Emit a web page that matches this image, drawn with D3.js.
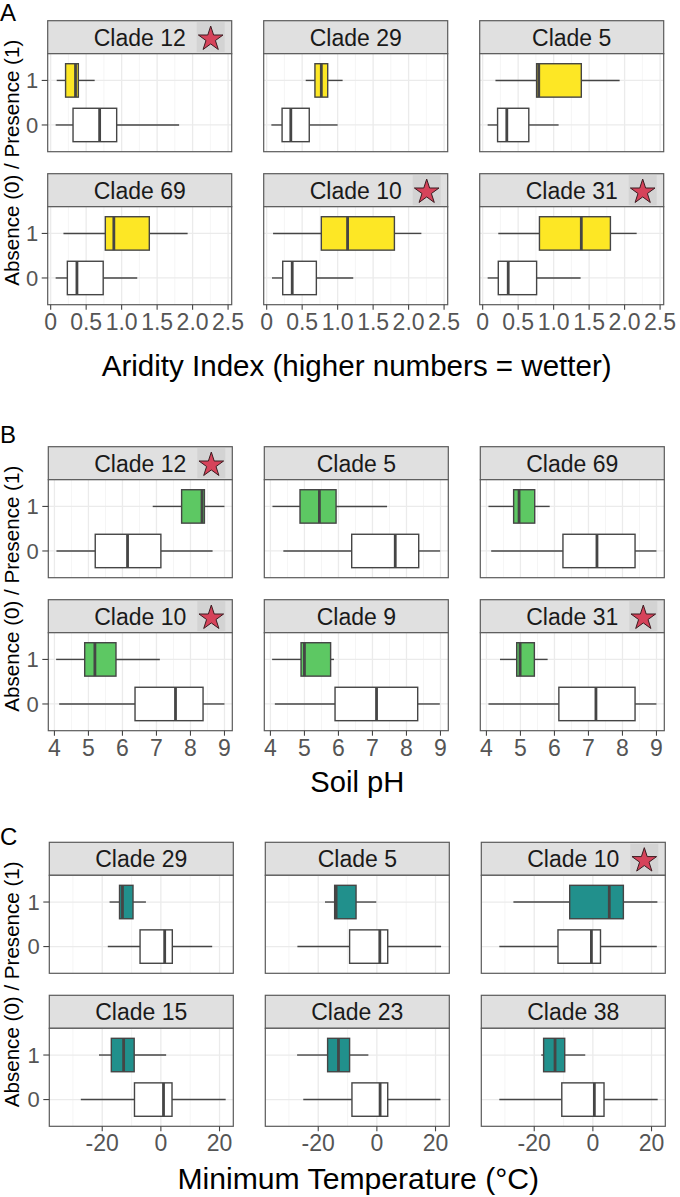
<!DOCTYPE html>
<html><head><meta charset="utf-8">
<script src="https://cdn.jsdelivr.net/npm/d3@7/dist/d3.min.js"></script>
<style>
body{margin:0;background:#fff;}
svg{display:block;font-family:"Liberation Sans",Arial,Helvetica,sans-serif;}
</style>
</head><body>
<svg id="chart" width="680" height="1197"></svg>
<script>
// ---------------- DATA ----------------
// each box: [lower whisker, Q1, median, Q3, upper whisker]
const yCategories = ["1", "0"];

// A: Aridity index
const aridityClades = ["Clade 12", "Clade 29", "Clade 5", "Clade 69", "Clade 10", "Clade 31"];
const aridityStars = [true, false, false, false, true, true];
const aridityPresence = [
  [0.085, 0.21, 0.35, 0.39, 0.62],
  [0.55, 0.68, 0.77, 0.86, 1.07],
  [0.18, 0.76, 0.79, 1.39, 1.93],
  [0.18, 0.77, 0.89, 1.39, 1.93],
  [0.09, 0.77, 1.14, 1.80, 2.18],
  [0.22, 0.80, 1.39, 1.80, 2.17]
];
const aridityAbsence = [
  [0.07, 0.315, 0.69, 0.93, 1.81],
  [0.066, 0.217, 0.34, 0.60, 1.00],
  [0.07, 0.21, 0.34, 0.65, 1.07],
  [0.07, 0.235, 0.37, 0.74, 1.22],
  [0.075, 0.226, 0.36, 0.70, 1.22],
  [0.07, 0.22, 0.36, 0.76, 1.38]
];
const aridityTicks = [0, 0.5, 1, 1.5, 2, 2.5];
const aridityTickLabels = ["0", "0.5", "1.0", "1.5", "2.0", "2.5"];
const aridityMinor = [0.25, 0.75, 1.25, 1.75, 2.25];
const aridityDomain = [-0.042, 2.551];
const aridityTitle = "Aridity Index (higher numbers = wetter)";

// B: Soil pH
const phClades = ["Clade 12", "Clade 5", "Clade 69", "Clade 10", "Clade 9", "Clade 31"];
const phStars = [true, false, false, true, false, true];
const phPresence = [
  [6.89, 7.74, 8.34, 8.41, 9.00],
  [4.06, 4.87, 5.44, 5.93, 7.43],
  [4.06, 4.80, 4.96, 5.42, 5.86],
  [4.05, 4.89, 5.19, 5.81, 7.10],
  [4.05, 4.90, 5.00, 5.77, 5.87],
  [4.40, 4.89, 4.99, 5.41, 5.80]
];
const phAbsence = [
  [4.06, 5.20, 6.15, 7.13, 8.65],
  [4.38, 6.39, 7.67, 8.36, 8.99],
  [4.14, 6.25, 7.25, 8.37, 9.00],
  [4.14, 6.37, 7.56, 8.37, 9.00],
  [4.13, 5.90, 7.12, 8.33, 8.98],
  [4.06, 6.13, 7.22, 8.37, 9.00]
];
const phTicks = [4, 5, 6, 7, 8, 9];
const phTickLabels = ["4", "5", "6", "7", "8", "9"];
const phMinor = [4.5, 5.5, 6.5, 7.5, 8.5];
const phDomain = [3.82, 9.23];
const phTitle = "Soil pH";

// C: Minimum temperature
const tempClades = ["Clade 29", "Clade 5", "Clade 10", "Clade 15", "Clade 23", "Clade 38"];
const tempStars = [false, false, true, false, false, false];
const tempPresence = [
  [-17.5, -14.1, -13.1, -9.5, -5.1],
  [-17.7, -14.4, -13.9, -7.1, -0.2],
  [-27.1, -7.9, 5.6, 10.4, 22.0],
  [-21.1, -16.9, -12.7, -9.1, 1.8],
  [-27.2, -16.8, -13.1, -9.3, -2.9],
  [-17.6, -16.8, -12.9, -9.6, -2.6]
];
const tempAbsence = [
  [-18.1, -7.1, 1.3, 3.9, 17.5],
  [-27.1, -9.3, 1.0, 3.7, 21.9],
  [-31.9, -11.9, -0.5, 2.6, 21.8],
  [-27.3, -9.0, 0.9, 3.8, 22.1],
  [-25.1, -8.5, 1.1, 3.7, 21.7],
  [-31.9, -10.6, 0.5, 3.8, 22.1]
];
const tempTicks = [-20, 0, 20];
const tempTickLabels = ["-20", "0", "20"];
const tempMinor = [-30, -10, 10];
const tempDomain = [-38.05, 24.7];
const tempTitle = "Minimum Temperature (°C)";

const yTitle = "Absence (0) / Presence (1)";

// ---------------- LAYOUT ----------------
const sections = [
  {letter: "A", clades: aridityClades, stars: aridityStars, pres: aridityPresence, abs: aridityAbsence,
   ticks: aridityTicks, tickLabels: aridityTickLabels, minor: aridityMinor, domain: aridityDomain,
   title: aridityTitle, titleW: 510, fill: "#FDE725", left: 47.7, top: 20.7, letterY: 20.7, titleDy: 71.4},
  {letter: "B", clades: phClades, stars: phStars, pres: phPresence, abs: phAbsence,
   ticks: phTicks, tickLabels: phTickLabels, minor: phMinor, domain: phDomain,
   title: phTitle, titleW: 94, fill: "#5DC863", left: 48.3, top: 446.7, letterY: 443.3, titleDy: 61.7},
  {letter: "C", clades: tempClades, stars: tempStars, pres: tempPresence, abs: tempAbsence,
   ticks: tempTicks, tickLabels: tempTickLabels, minor: tempMinor, domain: tempDomain,
   title: tempTitle, titleW: 362, fill: "#21908C", left: 49.3, top: 842.3, letterY: 845, titleDy: 62.3}
];

const colPitch = 216, rowPitch = 153, panelW = 184, stripH = 33, panelH = 98;
const boxStroke = "#454545", borderCol = "#5a5a5a";

const svg = d3.select("#chart");

function fitText(sel, baseSize, target) {
  const len = sel.node().getComputedTextLength();
  if (len > 0) sel.attr("font-size", baseSize * target / len);
}

sections.forEach(sec => {
  const g = svg.append("g");
  // section letter
  g.append("text").attr("x", 0).attr("y", sec.letterY)
    .attr("font-size", 24).attr("fill", "#000").text(sec.letter);

  let sectionBottom = 0;
  sec.clades.forEach((clade, i) => {
    const col = i % 3, row = Math.floor(i / 3);
    const px = sec.left + col * colPitch;
    const sTop = sec.top + row * rowPitch;
    const pTop = sTop + stripH, pBot = pTop + panelH;
    sectionBottom = Math.max(sectionBottom, pBot);

    const x = d3.scaleLinear().domain(sec.domain).range([px, px + panelW]);
    const y = d3.scalePoint().domain(yCategories).range([pTop, pBot]).padding(0.6);
    const bh = y.step() * 0.75;

    const pg = g.append("g");
    // strip
    pg.append("rect").attr("x", px).attr("y", sTop).attr("width", panelW).attr("height", stripH)
      .attr("fill", "#E0E0E0").attr("stroke", borderCol).attr("stroke-width", 1.2);
    pg.append("text").attr("x", px + panelW / 2).attr("y", sTop + 25)
      .attr("text-anchor", "middle").attr("font-size", 23).attr("fill", "#1a1a1a").text(clade);
    if (sec.stars[i]) {
      const cx = px + panelW - 21, cy = sTop + stripH / 2 + 0.3;
      pg.append("rect").attr("x", cx - 14).attr("y", sTop + 1.5).attr("width", 28).attr("height", stripH - 3)
        .attr("fill", "#D3D3D3");
      pg.append("path").attr("d", d3.symbol().type(d3.symbolStar).size(188)())
        .attr("transform", `translate(${cx},${cy + 1.5})`)
        .attr("fill", "#D6435A").attr("stroke", "#3b1b20").attr("stroke-width", 1);
    }
    // panel background
    pg.append("rect").attr("x", px).attr("y", pTop).attr("width", panelW).attr("height", panelH).attr("fill", "#fff");
    // grid
    pg.selectAll(".minor").data(sec.minor).join("line")
      .attr("x1", d => x(d)).attr("x2", d => x(d)).attr("y1", pTop).attr("y2", pBot)
      .attr("stroke", "#F2F2F2").attr("stroke-width", 0.8);
    pg.selectAll(".major").data(sec.ticks).join("line")
      .attr("x1", d => x(d)).attr("x2", d => x(d)).attr("y1", pTop).attr("y2", pBot)
      .attr("stroke", "#EBEBEB").attr("stroke-width", 1.3);
    pg.selectAll(".hgrid").data(yCategories).join("line")
      .attr("x1", px).attr("x2", px + panelW).attr("y1", d => y(d)).attr("y2", d => y(d))
      .attr("stroke", "#EBEBEB").attr("stroke-width", 1.3);

    // boxes
    const boxes = [{cat: "1", v: sec.pres[i], fill: sec.fill}, {cat: "0", v: sec.abs[i], fill: "#fff"}];
    boxes.forEach(b => {
      const [lo, q1, med, q3, hi] = b.v;
      const cy = y(b.cat);
      pg.append("line").attr("x1", x(lo)).attr("x2", x(q1)).attr("y1", cy).attr("y2", cy)
        .attr("stroke", boxStroke).attr("stroke-width", 1.4);
      pg.append("line").attr("x1", x(q3)).attr("x2", x(hi)).attr("y1", cy).attr("y2", cy)
        .attr("stroke", boxStroke).attr("stroke-width", 1.4);
      pg.append("rect").attr("x", x(q1)).attr("y", cy - bh / 2).attr("width", x(q3) - x(q1)).attr("height", bh)
        .attr("fill", b.fill).attr("stroke", boxStroke).attr("stroke-width", 1.4);
      pg.append("line").attr("x1", x(med)).attr("x2", x(med)).attr("y1", cy - bh / 2).attr("y2", cy + bh / 2)
        .attr("stroke", boxStroke).attr("stroke-width", 2.8);
    });

    // border
    pg.append("rect").attr("x", px).attr("y", pTop).attr("width", panelW).attr("height", panelH)
      .attr("fill", "none").attr("stroke", borderCol).attr("stroke-width", 1.2);

    // y axis (first column)
    if (col === 0) {
      yCategories.forEach(c => {
        pg.append("line").attr("x1", px - 6).attr("x2", px).attr("y1", y(c)).attr("y2", y(c))
          .attr("stroke", "#444").attr("stroke-width", 1.1);
        pg.append("text").attr("x", px - 9.5).attr("y", y(c)).attr("dy", "0.36em")
          .attr("text-anchor", "end").attr("font-size", 22).attr("fill", "#555").text(c);
      });
    }
    // x axis (bottom row)
    if (row === 1) {
      sec.ticks.forEach((t, k) => {
        pg.append("line").attr("x1", x(t)).attr("x2", x(t)).attr("y1", pBot).attr("y2", pBot + 5)
          .attr("stroke", "#444").attr("stroke-width", 1.1);
        pg.append("text").attr("x", x(t)).attr("y", pBot + 25)
          .attr("text-anchor", "middle").attr("font-size", 23).attr("fill", "#555").text(sec.tickLabels[k]);
      });
    }
  });

  // x title
  const midX = sec.left + (2 * colPitch + panelW) / 2;
  const xt = g.append("text").attr("x", midX + 1).attr("y", sectionBottom + sec.titleDy)
    .attr("text-anchor", "middle").attr("font-size", 29).attr("fill", "#000").text(sec.title);
  fitText(xt, 29, sec.titleW);
  // y title
  const midY = (sec.top + sectionBottom) / 2;
  const yt = g.append("text").attr("transform", `translate(19,${midY}) rotate(-90)`)
    .attr("text-anchor", "middle").attr("font-size", 21).attr("fill", "#000").text(yTitle);
  fitText(yt, 21, 246);
});
</script>
</body></html>
